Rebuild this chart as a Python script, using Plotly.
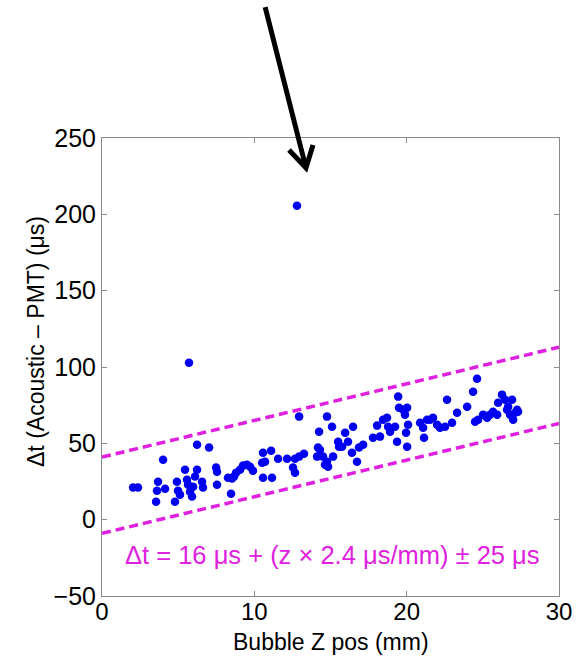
import plotly.graph_objects as go

# Bubble position along the jar axis (mm) and acoustic-minus-PMT time delay (µs)
z_mm = [
    2.04, 2.36, 4.01, 3.55, 3.61, 3.68, 4.14, 4.79, 4.92, 4.99,
    5.12, 5.45, 5.58, 5.65, 5.78, 5.91, 5.98, 6.11, 6.24, 6.24,
    6.57, 6.63, 7.03, 7.49, 7.55, 7.55, 8.27, 8.54, 8.67, 8.47,
    8.80, 9.06, 9.26, 9.52, 9.72, 9.91, 10.51, 10.57, 10.70, 10.57,
    11.16, 11.10, 11.56, 12.15, 12.54, 12.67, 12.67, 12.94, 13.26, 12.94,
    14.12, 14.18, 14.25, 14.77, 15.10, 14.64, 14.84, 15.17, 15.50, 15.56,
    14.31, 14.51, 14.77, 15.76, 15.96, 16.15, 16.41, 16.48, 16.74, 16.87,
    17.14, 17.79, 18.06, 18.25, 18.45, 18.71, 18.78, 18.91, 19.24, 19.37,
    19.44, 19.50, 19.76, 19.89, 20.03, 19.96, 20.03, 20.09, 20.88, 21.08,
    21.14, 21.34, 21.54, 21.73, 22.00, 22.19, 22.52, 22.65, 22.98, 23.31,
    23.97, 24.36, 24.62, 24.49, 24.69, 25.02, 25.28, 25.48, 25.67, 25.94,
    26.00, 26.26, 26.46, 26.59, 26.66, 26.79, 26.92, 27.12, 27.25, 27.31,
    26.99, 12.80, 5.71,
]
dt_us = [
    21.0, 21.0, 39.3, 11.8, 19.0, 24.9, 20.3, 11.8, 24.9, 19.0,
    16.4, 32.7, 26.2, 22.9, 18.3, 15.1, 21.6, 28.2, 32.7, 49.1,
    24.9, 21.0, 47.2, 34.1, 31.4, 22.9, 27.5, 26.9, 28.2, 17.0,
    30.8, 32.7, 35.4, 36.0, 34.7, 32.1, 37.3, 43.9, 38.0, 27.5,
    27.5, 45.2, 39.9, 39.9, 34.1, 30.8, 39.9, 41.3, 43.2, 67.5,
    41.3, 47.2, 57.6, 67.5, 60.9, 36.0, 34.7, 41.3, 51.1, 47.8,
    45.8, 41.3, 38.0, 47.8, 57.0, 51.1, 43.9, 60.9, 38.0, 47.2,
    49.1, 53.7, 61.6, 54.4, 65.5, 66.8, 60.9, 57.6, 60.9, 51.1,
    80.6, 73.3, 72.0, 68.8, 73.3, 57.0, 47.8, 62.2, 63.5, 60.2,
    53.7, 65.5, 65.5, 66.8, 62.2, 60.2, 60.9, 78.6, 63.5, 70.1,
    74.0, 83.8, 92.3, 64.2, 65.5, 68.8, 66.8, 68.8, 70.7, 68.8,
    76.6, 81.9, 78.6, 72.0, 74.0, 68.8, 78.6, 70.1, 72.0, 70.7,
    65.5, 205.6, 102.8,
]

# Timing model: offset + z * slope, with a +/- band
offset_us = 16
slope_us_per_mm = 2.4
band_us = 25
z_range = [0, 30]

x_ticks = [0, 10, 20, 30]
y_ticks = [-50, 0, 50, 100, 150, 200, 250]

MAGENTA = "#E020E0"
BLUE = "#0000F0"
AXIS_GREY = "#8a8a8a"
FONT = "Liberation Sans, Arial, Helvetica, sans-serif"

fig = go.Figure()

for sign in (+1, -1):
    fig.add_trace(go.Scatter(
        x=z_range,
        y=[offset_us + slope_us_per_mm * z + sign * band_us for z in z_range],
        mode="lines",
        line=dict(color=MAGENTA, width=3.5, dash="9px,5px"),
        hoverinfo="skip",
        showlegend=False,
    ))

fig.add_trace(go.Scatter(
    x=z_mm, y=dt_us, mode="markers",
    marker=dict(color=BLUE, size=8.5, line=dict(width=0)),
    showlegend=False,
))

axis_common = dict(
    showline=True, linecolor=AXIS_GREY, linewidth=1, mirror="ticks",
    ticks="inside", ticklen=5, tickcolor=AXIS_GREY, tickwidth=1,
    showgrid=False, zeroline=False,
)

fig.update_xaxes(range=[0, 30], tickvals=x_ticks, ticklabelstandoff=-6,
                 tickfont=dict(family=FONT, size=24, color="black"), **axis_common)
fig.update_yaxes(range=[-50, 250], tickvals=y_ticks, ticklabelstandoff=0,
                 tickfont=dict(family=FONT, size=25, color="black"), **axis_common)

# Arrow pointing at the late outlier (paper coordinates, open V head)
top = (0.357, 1.286)
tip = (0.4464, 0.9345)
left_wing = (0.4092, 0.9738)
right_wing = (0.4617, 0.9847)
arrow_path = (
    f"M {top[0]},{top[1]} L {tip[0]},{tip[1]} "
    f"M {left_wing[0]},{left_wing[1]} L {tip[0]},{tip[1]} L {right_wing[0]},{right_wing[1]}"
)
fig.add_shape(type="path", xref="paper", yref="paper", path=arrow_path,
              line=dict(color="black", width=5))

fig.add_annotation(
    x=15.1, y=-23, xref="x", yref="y",
    text="Δt = 16 μs + (z × 2.4 μs/mm) ± 25 μs",
    showarrow=False, font=dict(family=FONT, size=25.5, color=MAGENTA),
    xanchor="center", yanchor="middle",
)
fig.add_annotation(
    x=-0.1444, y=0.5546, xref="paper", yref="paper",
    text="Δt (Acoustic – PMT) (μs)", textangle=-90,
    showarrow=False, font=dict(family=FONT, size=23, color="black"),
    xanchor="center", yanchor="middle",
)
fig.add_annotation(
    x=0.5, y=-0.1, xref="paper", yref="paper",
    text="Bubble Z pos (mm)",
    showarrow=False, font=dict(family=FONT, size=23, color="black"),
    xanchor="center", yanchor="middle",
)

fig.update_layout(
    width=583, height=656,
    margin=dict(l=102, r=24, t=138, b=60),
    paper_bgcolor="white", plot_bgcolor="white",
)

fig.write_html("out.html")
